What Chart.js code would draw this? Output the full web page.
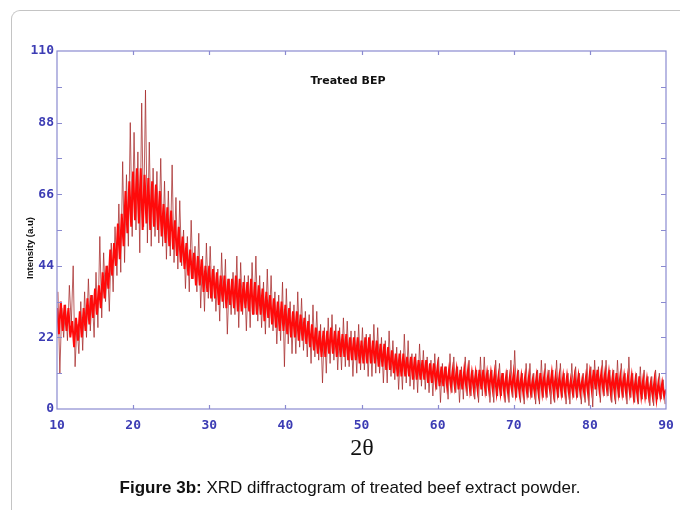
<!DOCTYPE html>
<html>
<head>
<meta charset="utf-8">
<script src="https://cdn.jsdelivr.net/npm/chart.js@4/dist/chart.umd.min.js"></script>
<style>
    html, body { margin: 0; padding: 0; background: #fff; }
    #wrap { position: relative; width: 680px; height: 510px; overflow: hidden; }
    #frame {
        position: absolute; left: 11px; top: 10px; width: 720px; height: 560px;
        border-left: 1px solid #c4c4c4; border-top: 1px solid #c4c4c4;
        border-top-left-radius: 9px;
    }
    #chart { position: absolute; left: 0; top: 0; }
    #caption {
        position: absolute; left: 0; width: 700px; top: 478px; text-align: center;
        font-family: "Liberation Sans", Arial, sans-serif; font-size: 17px; color: #111;
    }
</style>
</head>
<body>
<div id="wrap">
    <div id="frame"></div>
    <canvas id="chart" width="680" height="510"></canvas>
    <div id="caption"><b>Figure 3b:</b> XRD diffractogram of treated beef extract powder.</div>
</div>
<script>
// 2theta sampling of the traces (raw trace sits between the core samples)
const coreStart = 10;
const spikeStart = 10.125;
const sampleStep = 0.25;

// bright red band, one row per degree (10 .. 90)
const coreValues = [
    31, 23, 33, 24,
    32, 24, 31, 22,
    27, 19, 28, 21,
    30, 22, 31, 24,
    34, 26, 35, 28,
    37, 29, 38, 31,
    42, 34, 44, 37,
    49, 41, 51, 44,
    57, 46, 60, 50,
    67, 54, 70, 56,
    73, 58, 74, 57,
    74, 55, 72, 57,
    71, 55, 70, 56,
    69, 55, 67, 53,
    63, 51, 62, 50,
    61, 49, 58, 47,
    56, 45, 53, 43,
    51, 41, 49, 40,
    48, 38, 47, 38,
    46, 36, 44, 36,
    44, 34, 43, 34,
    42, 32, 41, 33,
    41, 31, 40, 32,
    40, 31, 41, 30,
    40, 30, 39, 31,
    39, 30, 40, 29,
    39, 29, 38, 29,
    37, 27, 36, 28,
    35, 26, 34, 25,
    33, 24, 33, 24,
    32, 23, 31, 22,
    30, 22, 30, 21,
    29, 21, 28, 20,
    27, 19, 26, 18,
    25, 17, 24, 16,
    24, 16, 24, 17,
    25, 17, 24, 16,
    24, 16, 23, 16,
    23, 15, 22, 15,
    22, 15, 22, 14,
    21, 14, 22, 14,
    22, 14, 21, 14,
    21, 13, 20, 13,
    20, 12, 19, 12,
    18, 11, 17, 10,
    17, 10, 17, 10,
    16, 10, 16, 9,
    16, 9, 15, 9,
    15, 9, 15, 8,
    14, 8, 14, 8,
    13, 7, 13, 7,
    13, 7, 12, 7,
    12, 7, 12, 6,
    12, 6, 12, 7,
    12, 6, 11, 6,
    11, 6, 12, 6,
    12, 6, 11, 6,
    11, 6, 11, 5,
    10, 5, 11, 5,
    10, 5, 10, 6,
    11, 5, 10, 5,
    10, 5, 10, 5,
    10, 5, 9, 5,
    10, 5, 11, 5,
    10, 5, 10, 6,
    11, 5, 10, 5,
    10, 5, 10, 5,
    10, 5, 9, 5,
    10, 5, 10, 5,
    9, 5, 10, 5,
    11, 6, 12, 6,
    12, 6, 11, 6,
    11, 6, 11, 5,
    10, 5, 11, 5,
    10, 5, 10, 5,
    10, 5, 10, 4,
    9, 4, 10, 4,
    9, 4, 9, 4,
    8, 4, 9, 3,
    8, 4, 8, 4,
    6
];

// dark red raw trace with its spikes, one row per degree (10.125 .. 89.875)
const spikeValues = [
    36, 11, 31, 22,
    32, 21, 38, 26,
    44, 13, 26, 17,
    33, 18, 36, 22,
    40, 24, 35, 22,
    42, 25, 53, 28,
    48, 33, 44, 30,
    51, 36, 56, 41,
    63, 42, 76, 45,
    72, 50, 88, 53,
    85, 55, 79, 48,
    94, 56, 98, 51,
    82, 50, 74, 53,
    73, 51, 77, 50,
    70, 46, 67, 47,
    75, 45, 65, 43,
    64, 44, 55, 37,
    53, 36, 58, 40,
    50, 36, 54, 31,
    47, 30, 51, 34,
    50, 33, 44, 30,
    43, 27, 48, 31,
    46, 23, 40, 29,
    42, 29, 47, 25,
    45, 29, 41, 24,
    41, 25, 45, 29,
    47, 27, 41, 25,
    39, 23, 43, 25,
    41, 24, 36, 20,
    35, 21, 39, 13,
    37, 20, 33, 17,
    32, 17, 36, 19,
    34, 18, 30, 16,
    29, 14, 32, 16,
    30, 15, 26, 8,
    25, 11, 28, 14,
    29, 15, 26, 12,
    25, 12, 28, 13,
    27, 13, 24, 10,
    24, 11, 26, 12,
    25, 12, 23, 10,
    23, 10, 26, 11,
    25, 11, 22, 8,
    21, 8, 24, 10,
    21, 9, 19, 6,
    18, 6, 23, 8,
    21, 7, 17, 6,
    17, 5, 20, 7,
    18, 6, 16, 5,
    15, 4, 17, 6,
    16, 2, 14, 5,
    13, 3, 17, 5,
    16, 5, 13, 2,
    13, 3, 16, 4,
    15, 4, 12, 3,
    12, 2, 16, 4,
    16, 4, 12, 2,
    12, 2, 15, 4,
    14, 4, 11, 2,
    12, 2, 15, 3.5,
    18, 3.5, 12, 2,
    11, 1.5, 14, 3.5,
    14, 3.5, 11, 1.5,
    12, 1.5, 15, 3.5,
    14, 3.5, 12, 1.5,
    12, 2, 15, 3.5,
    14, 3.5, 11, 1.5,
    11, 1.5, 14, 3.5,
    13, 3.5, 11, 1.5,
    11, 2, 14, 1,
    13, 0.6, 15, 4,
    13, 2, 15, 4,
    15, 4, 12, 2,
    12, 1.5, 15, 3.5,
    14, 3.5, 11, 1.5,
    16, 3.5, 11, 2,
    11, 1.5, 13, 3,
    12, 3, 10, 1,
    10, 1, 12, 3,
    11, 3, 9, 1.5
];

const xTicks = [10, 20, 30, 40, 50, 60, 70, 80, 90];
const yTicks = [0, 22, 44, 66, 88, 110];

const axisColor = '#8a8ad0';
const labelColor = '#3c3cb4';

function toPoints(values, start) {
    return values.map((v, i) => ({ x: start + i * sampleStep, y: v }));
}

// box, inward ticks and the text inside / around the plot
const decorations = {
    id: 'decorations',
    afterDatasetsDraw(chart) {
        const { ctx, chartArea: a, scales: { x, y } } = chart;
        ctx.save();
        ctx.strokeStyle = axisColor;
        ctx.lineWidth = 1.2;
        ctx.strokeRect(a.left, a.top, a.right - a.left, a.bottom - a.top);

        ctx.beginPath();
        for (let v = 11; v < 110; v += 11) {
            const py = Math.round(y.getPixelForValue(v)) + 0.5;
            ctx.moveTo(a.left, py); ctx.lineTo(a.left + 5, py);
            ctx.moveTo(a.right, py); ctx.lineTo(a.right - 5, py);
        }
        xTicks.slice(1, -1).forEach(v => {
            const px = Math.round(x.getPixelForValue(v)) + 0.5;
            ctx.moveTo(px, a.top); ctx.lineTo(px, a.top + 4);
            ctx.moveTo(px, a.bottom); ctx.lineTo(px, a.bottom - 4);
        });
        ctx.stroke();

        ctx.fillStyle = '#111';
        ctx.textAlign = 'center';
        ctx.textBaseline = 'middle';
        ctx.font = 'bold 11px "DejaVu Sans", sans-serif';
        ctx.fillText('Treated BEP', 348, 81);

        ctx.font = '24px "Liberation Serif", "Times New Roman", serif';
        ctx.fillText('2\u03b8', 362, 449);

        ctx.translate(30, 248);
        ctx.rotate(-Math.PI / 2);
        ctx.font = 'bold 9.5px "Liberation Sans", Arial, sans-serif';
        ctx.fillText('Intensity (a.u)', 0, 0);
        ctx.restore();
    }
};

new Chart(document.getElementById('chart'), {
    type: 'line',
    data: {
        datasets: [
            {
                label: 'core',
                data: toPoints(coreValues, coreStart),
                borderColor: '#ff0a0a',
                borderWidth: 2,
                pointRadius: 0,
                tension: 0,
                order: 1
            },
            {
                label: 'raw',
                data: toPoints(spikeValues, spikeStart),
                borderColor: 'rgba(165, 40, 40, 0.75)',
                borderWidth: 1,
                pointRadius: 0,
                tension: 0,
                order: 2
            }
        ]
    },
    options: {
        responsive: false,
        animation: false,
        layout: { padding: { left: 12, top: 51, right: 14, bottom: 0 } },
        plugins: { legend: { display: false }, tooltip: { enabled: false } },
        scales: {
            x: {
                type: 'linear',
                min: 10,
                max: 90,
                grid: { display: false, drawTicks: false },
                border: { display: false },
                afterFit(scale) {
                    scale.height = 101;
                    scale.paddingLeft = 0;
                    scale.paddingRight = 0;
                },
                afterBuildTicks(scale) { scale.ticks = xTicks.map(v => ({ value: v })); },
                ticks: {
                    padding: 9,
                    color: labelColor,
                    maxRotation: 0,
                    autoSkip: false,
                    font: { family: '"DejaVu Sans Mono", monospace', size: 13, weight: 'bold' }
                }
            },
            y: {
                min: 0,
                max: 110,
                grid: { display: false, drawTicks: false },
                border: { display: false },
                afterFit(scale) {
                    scale.width = 45;
                    scale.paddingTop = 0;
                    scale.paddingBottom = 0;
                },
                afterBuildTicks(scale) { scale.ticks = yTicks.map(v => ({ value: v })); },
                ticks: {
                    padding: 3,
                    color: labelColor,
                    font: { family: '"DejaVu Sans Mono", monospace', size: 13, weight: 'bold' }
                }
            }
        }
    },
    plugins: [decorations]
});
</script>
</body>
</html>
